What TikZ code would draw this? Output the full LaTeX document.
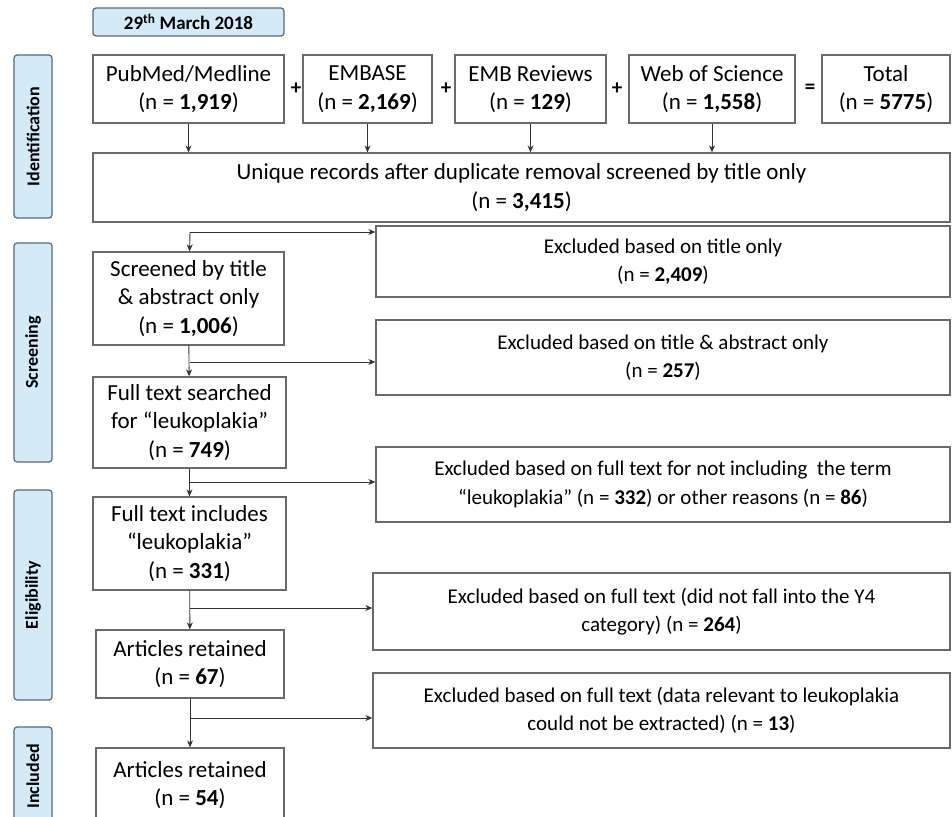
\documentclass[tikz,border=0pt]{standalone}
\usepackage{fontspec}
\setmainfont{Carlito}
\usetikzlibrary{arrows.meta}

\definecolor{stagefill}{HTML}{D4EAF7}
\definecolor{stageline}{HTML}{56697A}
\definecolor{boxline}{HTML}{6A6A6A}

\begin{document}
\begin{tikzpicture}[x=1pt, y=-1pt,
    box/.style={draw=boxline, line width=1.3pt, rectangle, align=center, inner sep=2pt,
      font=\fontsize{23}{28.5}\selectfont},
    excbox/.style={box, font=\fontsize{21}{28.5}\selectfont},
    stage/.style={draw=stageline, fill=stagefill, line width=1.2pt, rounded corners=3pt,
      minimum height=38pt, rotate=90, font=\fontsize{18}{20}\selectfont\bfseries},
    sign/.style={font=\fontsize{21}{24}\selectfont\bfseries},
    arr/.style={-{Stealth[length=7pt,width=6pt]}, line width=0.9pt, black!80}]
  \useasboundingbox (0,0) rectangle (952,816);
  % Date and stage labels
  \node[draw=stageline, fill=stagefill, line width=1.2pt, rounded corners=3pt,
    minimum width=191pt, minimum height=28pt, font=\fontsize{19}{20}\selectfont\bfseries]
    (date) at (188.5,22) {29\textsuperscript{th} March 2018};
  \node[stage, minimum width=163pt] (ident) at (33,136.5) {Identification};
  \node[stage, minimum width=219pt] (screen) at (33,352.5) {Screening};
  \node[stage, minimum width=210pt] (elig) at (33,595) {Eligibility};
  \node[stage, minimum width=99pt] (incl) at (33,776.5) {Included};
  % Databases
  \node[box, minimum width=191pt, minimum height=68pt] (pubmed) at (188.5,89) {PubMed/Medline\\(n = \textbf{1,919})};
  \node[box, minimum width=129pt, minimum height=68pt] (embase) at (367.5,89) {EMBASE\\(n = \textbf{2,169})};
  \node[box, minimum width=151pt, minimum height=68pt] (ebm) at (530.5,89) {EMB Reviews\\(n = \textbf{129})};
  \node[box, minimum width=166pt, minimum height=68pt] (wos) at (712,89) {Web of Science\\(n = \textbf{1,558})};
  \node[box, minimum width=128pt, minimum height=68pt] (total) at (886,89) {Total\\(n = \textbf{5775})};
  \node[sign] (p1) at (296,89) {+};
  \node[sign] (p2) at (446,89) {+};
  \node[sign] (p3) at (617,89) {+};
  \node[sign] (eq) at (810,89) {=};
  \node[box, minimum width=857pt, minimum height=69pt] (unique) at (521.5,187.5)
    {Unique records after duplicate removal screened by title only\\(n = \textbf{3,415})};
  % Left column
  \node[box, minimum width=191pt, minimum height=93pt] (scr) at (188.5,298.5) {Screened by title\\\& abstract only\\(n = \textbf{1,006})};
  \node[box, minimum width=193pt, minimum height=91pt] (fts) at (189.5,422.5) {Full text searched\\for “leukoplakia”\\(n = \textbf{749})};
  \node[box, minimum width=193pt, minimum height=93pt] (fti) at (189.5,543.5) {Full text includes\\“leukoplakia”\\(n = \textbf{331})};
  \node[box, minimum width=188pt, minimum height=68pt] (ret1) at (190,664) {Articles retained\\(n = \textbf{67})};
  \node[box, minimum width=188pt, minimum height=74pt] (ret2) at (190,785) {Articles retained\\(n = \textbf{54})};
  % Exclusions
  \node[excbox, minimum width=574pt, minimum height=71pt] (exc1) at (663,261.5) {Excluded based on title only\\(n = \textbf{2,409})};
  \node[excbox, minimum width=574pt, minimum height=75pt] (exc2) at (663,357.5) {Excluded based on title \& abstract only\\(n = \textbf{257})};
  \node[excbox, minimum width=574pt, minimum height=75pt] (exc3) at (663,484.5) {Excluded based on full text for not including \ the term\\“leukoplakia” (n = \textbf{332}) or other reasons (n = \textbf{86})};
  \node[excbox, minimum width=577pt, minimum height=77pt] (exc4) at (661.5,611.5) {Excluded based on full text (did not fall into the Y4\\category) (n = \textbf{264})};
  \node[excbox, minimum width=577pt, minimum height=75pt] (exc5) at (661.5,710.5) {Excluded based on full text (data relevant to leukoplakia\\could not be extracted) (n = \textbf{13})};
  % Branch points
  \coordinate (b1) at (190,232);
  \coordinate (b2) at (190,362);
  \coordinate (b3) at (190,482);
  \coordinate (b4) at (190,608);
  \coordinate (b5) at (190,718);
  % Draw the arrows
  \foreach \src in {pubmed, embase, ebm, wos}
    \draw[arr] (\src) -- (\src |- unique.north);
  \draw[arr] (b1) -- (scr);
  \draw[arr] (b1) -- (b1 -| exc1.west);
  \draw[arr] (scr) -- (fts);
  \draw[arr] (b2) -- (b2 -| exc2.west);
  \draw[arr] (fts) -- (fti);
  \draw[arr] (b3) -- (b3 -| exc3.west);
  \draw[arr] (fti) -- (ret1);
  \draw[arr] (b4) -- (b4 -| exc4.west);
  \draw[arr] (ret1) -- (ret2);
  \draw[arr] (b5) -- (b5 -| exc5.west);
\end{tikzpicture}
\end{document}
